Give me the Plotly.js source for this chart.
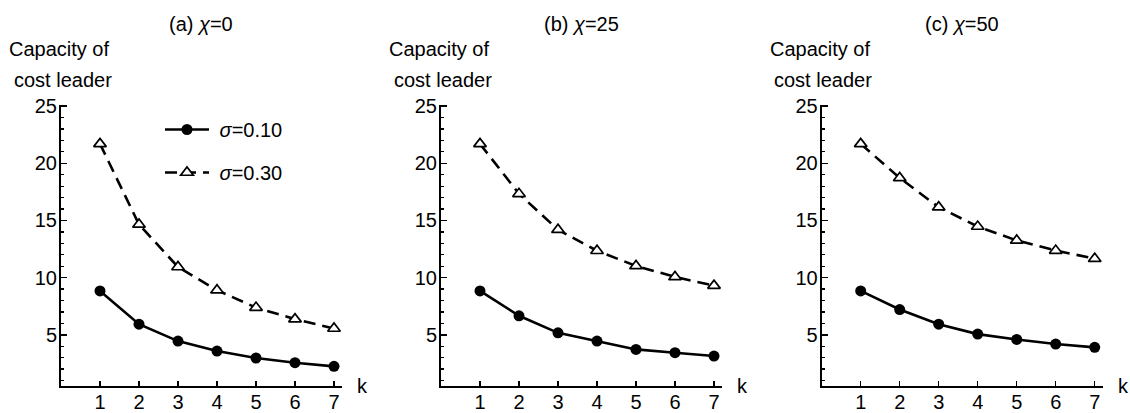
<!DOCTYPE html>
<html>
<head>
<meta charset="utf-8">
<script src="https://cdn.plot.ly/plotly-3.0.1.min.js"></script>
<style>
  html, body { margin: 0; padding: 0; background: #fff; }
  #chart { width: 1130px; height: 413px; }
</style>
</head>
<body>
<div id="chart"></div>
<script>
// Number of followers k
const k = [1, 2, 3, 4, 5, 6, 7];

// Capacity of the cost leader, chi = 0
const chi0Sigma010 = [8.84, 5.93, 4.45, 3.58, 2.97, 2.56, 2.24];
const chi0Sigma030 = [21.7, 14.65, 10.93, 8.9, 7.38, 6.37, 5.55];

// chi = 25
const chi25Sigma010 = [8.84, 6.66, 5.17, 4.45, 3.72, 3.43, 3.14];
const chi25Sigma030 = [21.7, 17.33, 14.19, 12.35, 11.02, 10.06, 9.3];

// chi = 50
const chi50Sigma010 = [8.84, 7.21, 5.93, 5.06, 4.59, 4.19, 3.9];
const chi50Sigma030 = [21.7, 18.72, 16.16, 14.47, 13.25, 12.37, 11.66];

const panelTitles = ['(a) <i>χ</i>=0', '(b) <i>χ</i>=25', '(c) <i>χ</i>=50'];
const seriesNames = ['\u00a0<i>σ</i>=0.10', '\u00a0<i>σ</i>=0.30'];
const yTickVals = [5, 10, 15, 20, 25];

const W = 1130, H = 413;
const FONT = 'Liberation Sans, Arial, sans-serif';
const FS = 20;

// Plot-area pixel boxes for the three panels
const left = [61, 441, 821.7];
const plotW = 280.8;
const plotTop = 105, plotBottom = 386;

const panels = [
  [chi0Sigma010, chi0Sigma030],
  [chi25Sigma010, chi25Sigma030],
  [chi50Sigma010, chi50Sigma030]
];

const traces = [];
panels.forEach((pair, i) => {
  const ax = i === 0 ? '' : String(i + 1);
  traces.push({
    x: k, y: pair[0], xaxis: 'x' + ax, yaxis: 'y' + ax,
    type: 'scatter', mode: 'lines+markers',
    name: seriesNames[0], legendgroup: 'g1', showlegend: i === 0,
    line: { color: '#000', width: 2.6 },
    marker: { symbol: 'circle', size: 11, color: '#000' }
  });
  traces.push({
    x: k, y: pair[1], xaxis: 'x' + ax, yaxis: 'y' + ax,
    type: 'scatter', mode: 'lines+markers',
    name: seriesNames[1], legendgroup: 'g2', showlegend: i === 0,
    line: { color: '#000', width: 2.6, dash: '12px,7px' },
    marker: { symbol: 'triangle-up', size: 11, color: '#fff', line: { color: '#000', width: 1.7 } }
  });
});

const layout = {
  width: W, height: H,
  margin: { l: 0, r: 0, t: 0, b: 0 },
  paper_bgcolor: '#fff', plot_bgcolor: '#fff',
  font: { family: FONT, size: FS, color: '#000' },
  showlegend: true,
  legend: {
    x: 160 / W, y: 1 - 110 / H, xanchor: 'left', yanchor: 'top',
    bgcolor: 'rgba(0,0,0,0)', borderwidth: 0, itemwidth: 44,
    font: { family: FONT, size: FS, color: '#000' },
    traceorder: 'grouped', tracegroupgap: 14
  },
  annotations: []
};

const yDom = [1 - plotBottom / H, 1 - plotTop / H];

left.forEach((lx, i) => {
  const ax = i === 0 ? '' : String(i + 1);
  const xd = [lx / W, (lx + plotW) / W];
  layout['xaxis' + ax] = {
    domain: xd, anchor: 'y' + ax,
    range: [0, 7.2], tickvals: k, ticks: 'inside', ticklen: 5, tickwidth: 1.5,
    tickcolor: '#000', showline: true, linecolor: '#000', linewidth: 2,
    showgrid: false, zeroline: false, fixedrange: true, ticklabelstandoff: -3,
    tickfont: { family: FONT, size: FS, color: '#000' }
  };
  layout['yaxis' + ax] = {
    domain: yDom, anchor: 'x' + ax,
    range: [0.52, 25.1], tickvals: yTickVals, ticks: 'inside', ticklen: 6, tickwidth: 1.5,
    tickcolor: '#000', showline: true, linecolor: '#000', linewidth: 2,
    showgrid: false, zeroline: false, fixedrange: true, ticklabelstandoff: -2,
    minor: { dtick: 1, tick0: 0, ticks: 'inside', ticklen: 3, tickwidth: 1.2, tickcolor: '#000', showgrid: false },
    tickfont: { family: FONT, size: FS, color: '#000' }
  };
  const cx = (lx + plotW / 2) / W;
  // Panel heading
  layout.annotations.push({
    xref: 'paper', yref: 'paper', x: cx, y: 1 - 24 / H,
    xanchor: 'center', yanchor: 'middle', showarrow: false,
    text: panelTitles[i], font: { family: FONT, size: FS, color: '#000' }
  });
  // Y-axis caption, two lines
  layout.annotations.push({
    xref: 'paper', yref: 'paper', x: (lx - 2) / W, y: 1 - 49 / H,
    xanchor: 'center', yanchor: 'middle', showarrow: false,
    text: 'Capacity of', font: { family: FONT, size: FS, color: '#000' }
  });
  layout.annotations.push({
    xref: 'paper', yref: 'paper', x: (lx + 1.5) / W, y: 1 - 80 / H,
    xanchor: 'center', yanchor: 'middle', showarrow: false,
    text: 'cost leader', font: { family: FONT, size: FS, color: '#000' }
  });
  // X-axis caption at the end of the axis
  layout.annotations.push({
    xref: 'paper', yref: 'paper', x: (lx + plotW + 21) / W, y: 1 - plotBottom / H,
    xanchor: 'center', yanchor: 'middle', showarrow: false,
    text: 'k', font: { family: FONT, size: FS, color: '#000' }
  });
});

Plotly.newPlot('chart', traces, layout, { displayModeBar: false, staticPlot: true });
</script>
</body>
</html>
